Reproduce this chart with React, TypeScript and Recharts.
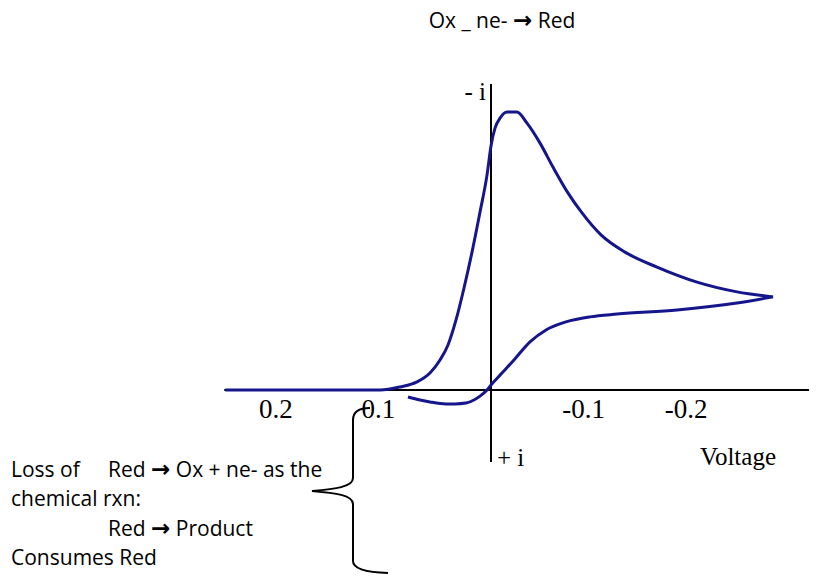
import React from 'react';
import { LineChart, Line, XAxis, YAxis, ReferenceLine } from 'recharts';

// Forward sweep: potential (V) and current (arb., cathodic plotted up as "-i")
const forwardVolts = [
  0.259, 0.186, 0.128, 0.108, 0.0887, 0.0721, 0.0595, 0.0497, 0.0419, 0.0341,
  0.0263, 0.0185, 0.0107, 0.0039, 0, -0.0039, -0.0088, -0.0156, -0.0253, -0.0351,
  -0.0478, -0.0604, -0.075, -0.0887, -0.1072, -0.1306, -0.1618, -0.2008, -0.2398, -0.2749,
];
const forwardCurrent = [
  0, 0, 0, 0, 0.011, 0.029, 0.061, 0.108, 0.162, 0.252,
  0.367, 0.496, 0.64, 0.773, 0.878, 0.942, 0.978, 1.0, 1.0, 0.96,
  0.888, 0.802, 0.709, 0.637, 0.558, 0.496, 0.442, 0.388, 0.353, 0.335,
];

// Return sweep from the switching potential
const reverseVolts = [
  -0.2749, -0.2398, -0.1813, -0.1228, -0.0965, -0.0731, -0.0536, -0.038, -0.0224, -0.0107,
  0, 0.0039, 0.0107, 0.0166, 0.0244, 0.0351, 0.0439, 0.0595, 0.0692, 0.0809,
];
const reverseCurrent = [
  0.335, 0.313, 0.288, 0.273, 0.263, 0.245, 0.216, 0.173, 0.108, 0.061,
  0.018, 0, -0.022, -0.036, -0.047, -0.05, -0.05, -0.043, -0.036, -0.025,
];

const voltTicks = [0.2, 0.1, -0.1, -0.2];

const forward = forwardVolts.map((v, k) => ({ v, i: forwardCurrent[k] }));
const reverse = reverseVolts.map((v, k) => ({ v, i: reverseCurrent[k] }));

const W = 817;
const H = 576;
const PLOT_TOP = 84;
const PLOT_BOTTOM = 462;
const AXIS_H = 30;
const ZERO_Y = 390;

const CURVE = '#15158c';
const SERIF = '"Liberation Serif", "Times New Roman", serif';
const SANS = '"Open Sans", "Noto Sans", sans-serif';
const ARROW = '"DejaVu Sans", sans-serif';

const Arrow = () => (
  <tspan fontFamily={ARROW} fontWeight="bold" fontSize={23}>→</tspan>
);

export default function App() {
  return (
    <div style={{ position: 'relative', width: W, height: H, background: '#fff' }}>
      <style>{'body{margin:0}'}</style>
      <LineChart
        width={W}
        height={H}
        margin={{ top: PLOT_TOP, right: 7.94, bottom: H - PLOT_BOTTOM - AXIS_H, left: 224.24 }}
      >
        <XAxis
          type="number"
          dataKey="v"
          domain={[-0.31, 0.26]}
          reversed
          allowDataOverflow
          ticks={voltTicks}
          interval={0}
          height={AXIS_H}
          axisLine={false}
          tickLine={false}
          tickFormatter={(v: number) => String(v)}
          tick={{ fill: '#000', fontSize: 27, fontFamily: SERIF, dx: -10, dy: ZERO_Y + 9 - (PLOT_BOTTOM + 8) }}
        />
        <YAxis type="number" domain={[-0.259, 1.1007]} allowDataOverflow hide />
        <ReferenceLine y={0} stroke="#000" strokeWidth={2} />
        <ReferenceLine x={0} stroke="#000" strokeWidth={2} />
        <Line
          data={forward}
          dataKey="i"
          type="monotone"
          stroke={CURVE}
          strokeWidth={3}
          dot={false}
          isAnimationActive={false}
        />
        <Line
          data={reverse}
          dataKey="i"
          type="monotone"
          stroke={CURVE}
          strokeWidth={3}
          dot={false}
          isAnimationActive={false}
        />
      </LineChart>

      <svg
        width={W}
        height={H}
        style={{ position: 'absolute', left: 0, top: 0, pointerEvents: 'none' }}
      >
        <text x={502} y={28} textAnchor="middle" fontFamily={SANS} fontSize={21} fill="#000">
          Ox _ ne- <Arrow /> Red
        </text>

        <text x={486} y={100} textAnchor="end" fontFamily={SERIF} fontSize={25} fill="#000">- i</text>
        <text x={497} y={466} fontFamily={SERIF} fontSize={25} fill="#000">+ i</text>
        <text x={776} y={465} textAnchor="end" fontFamily={SERIF} fontSize={25} fill="#000">Voltage</text>

        <g fontFamily={SANS} fontSize={21} fill="#000">
          <text x={11} y={477}>Loss of</text>
          <text x={108} y={477}>Red <Arrow /> Ox + ne- as the</text>
          <text x={11} y={506}>chemical rxn:</text>
          <text x={108} y={536}>Red <Arrow /> Product</text>
          <text x={11} y={565}>Consumes Red</text>
        </g>

        <path
          d="M 370 408 Q 353 408 353 420 L 353 478 C 353 487 335 489 312 491 C 335 493 353 495 353 504 L 353 561 Q 353 572 388 573"
          fill="none"
          stroke="#000"
          strokeWidth={2}
        />
      </svg>
    </div>
  );
}
